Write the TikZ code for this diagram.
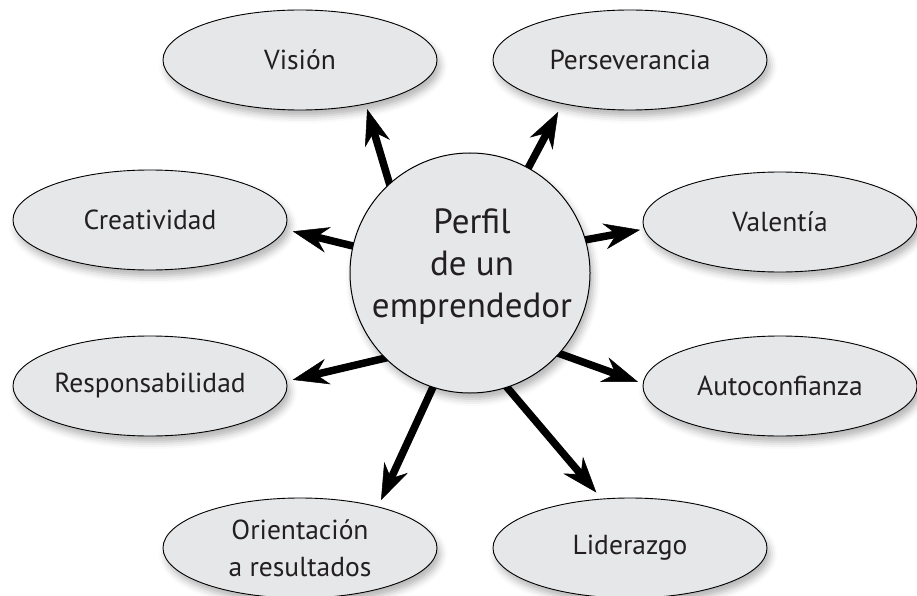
\documentclass[tikz,border=0pt]{standalone}
\usepackage{fontspec}
\setmainfont{PT Sans}
\usetikzlibrary{shapes.geometric,arrows.meta,shadows.blur,calc}
\definecolor{bubble}{HTML}{E6E7E8}
\definecolor{ink}{HTML}{231F20}
\pgfdeclarelayer{bg}
\pgfsetlayers{bg,main}
\begin{document}
\begin{tikzpicture}[x=1pt,y=-1pt,
  softshadow/.style={blur shadow={shadow xshift=3pt, shadow yshift=-6pt, shadow blur radius=7pt, shadow opacity=30}},
  trait/.style={ellipse, draw=black, line width=0.9pt, fill=bubble, minimum width=274pt, minimum height=100pt,
    inner sep=0pt, align=center, text=ink, font=\fontsize{27.5}{37}\selectfont, softshadow},
  hub/.style={circle, draw=black, line width=1pt, fill=bubble, minimum size=240pt, inner sep=0pt, softshadow},
  hubtext/.style={align=center, text=ink, font=\fontsize{35}{42}\selectfont, inner sep=0pt},
  arr/.style={line width=7.5pt, black, -{Stealth[length=36pt, width=26pt, inset=12pt, line width=0.5pt]}}
]
\useasboundingbox (0,0) rectangle (917,596);
\node[hub] (c) at (470,273) {};
\node[hubtext] (ct) at (472,267) {Perfil\\de un\\emprendedor};
\node[trait] (v)  at (300,60)  {Visión};
\node[trait] (p)  at (630,60)  {Perseverancia};
\node[trait] (cr) at (150,220) {Creatividad};
\node[trait] (va) at (780,222) {Valentía};
\node[trait] (re) at (150,386) {Responsabilidad};
\node[trait] (au) at (780,386) {Autoconfianza};
\node[trait] (or) at (300,548) {Orientación\\a resultados};
\node[trait] (li) at (630,548) {Liderazgo};
\begin{pgfonlayer}{bg}
\draw[arr, shorten >=5pt] ($(c.132)!-10pt!(v.-34)$) -- (v.-34);
\draw[arr, shorten >=9pt] ($(c.61)!-10pt!(p.-147)$) -- (p.-147);
\draw[arr, shorten >=8pt] ($(c.167)!-10pt!(cr.-4)$) -- (cr.-4);
\draw[arr, shorten >=4pt] ($(c.16)!-10pt!(va.183)$) -- (va.183);
\draw[arr, shorten >=6pt] ($(c.225)!-10pt!(re.2)$) -- (re.2);
\draw[arr, shorten >=7pt] ($(c.252)!-10pt!(or.28)$) -- (or.28);
\draw[arr, shorten >=5pt] ($(c.318)!-10pt!(au.179)$) -- (au.179);
\draw[arr, shorten >=8pt] ($(c.288)!-10pt!(li.120)$) -- (li.120);
\end{pgfonlayer}
\end{tikzpicture}
\end{document}
